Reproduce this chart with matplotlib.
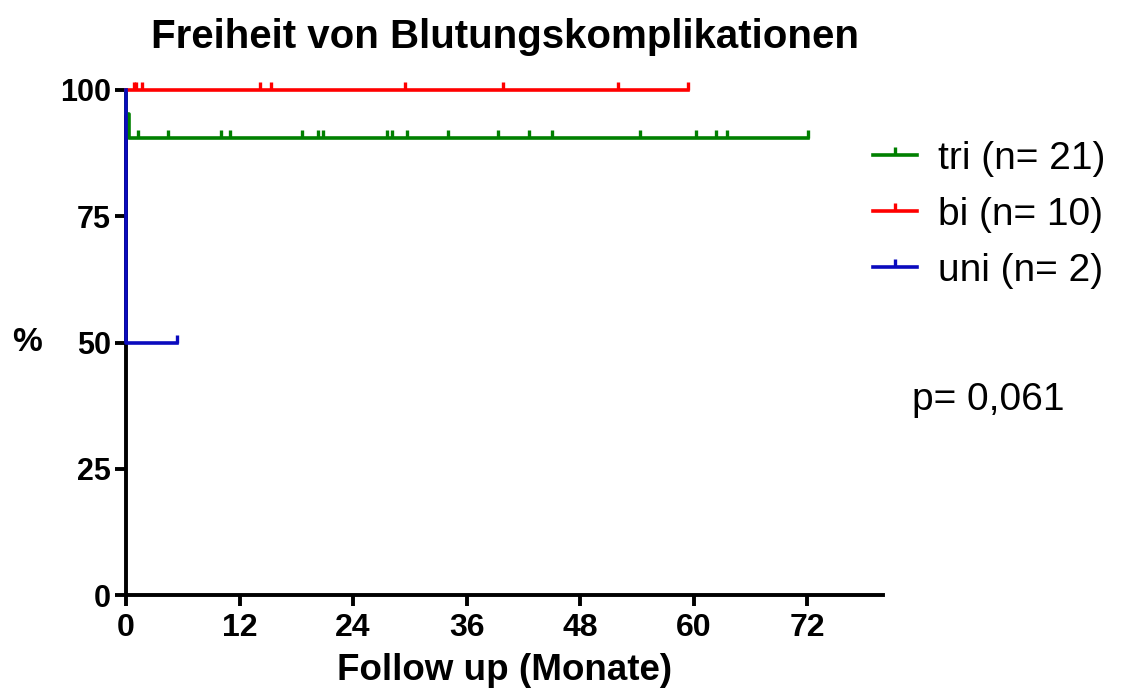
import matplotlib
matplotlib.use('Agg')
import matplotlib.pyplot as plt
from matplotlib.path import Path

plt.rcParams['font.family'] = ['Liberation Sans', 'DejaVu Sans']

# Daten (Monate)
tri_events = [0.05, 0.3]
tri_censored = [1.3, 4.4, 10.0, 11.0, 18.6, 20.3, 20.8, 27.6, 28.1, 29.7,
                34.0, 39.3, 42.6, 45.0, 54.3, 60.2, 62.4, 63.5, 72.1]
bi_events = []
bi_censored = [0.8, 1.1, 1.7, 14.2, 15.3, 29.5, 39.8, 52.0, 59.4]
uni_events = [0.05]
uni_censored = [5.4]

labels = ['tri (n= 21)', 'bi (n= 10)', 'uni (n= 2)']
colors = ['#008000', '#FF0000', '#0A0ABE']
xticks = [0, 12, 24, 36, 48, 60, 72]
yticks = [0, 25, 50, 75, 100]


def km(events, censored):
    """Kaplan-Meier Stufenkurve + Werte an den zensierten Zeitpunkten."""
    n = len(events) + len(censored)
    pts = sorted([(t, 1) for t in events] + [(t, 0) for t in censored])
    s = 100.0
    xs, ys = [0.0], [100.0]
    cx, cy = [], []
    at_risk = n
    for t, ev in pts:
        if ev:
            s = s * (at_risk - 1) / at_risk
            xs.append(t)
            ys.append(s)
        else:
            cx.append(t)
            cy.append(s)
        at_risk -= 1
    xs.append(pts[-1][0])
    ys.append(s)
    return xs, ys, cx, cy


tick_marker = Path([(0, 0), (0, 1)], [Path.MOVETO, Path.LINETO])

fig = plt.figure(figsize=(11.23, 6.96), dpi=100)
ax = fig.add_axes([0.1122, 0.1451, 0.6741, 0.7256])

groups = [(tri_events, tri_censored), (bi_events, bi_censored),
          (uni_events, uni_censored)]
for (ev, ce), col, lab in zip(groups, colors, labels):
    xs, ys, cx, cy = km(ev, ce)
    ax.step(xs, ys, where='post', color=col, lw=2.6, clip_on=False, zorder=3)
    ax.plot(cx, cy, ls='none', marker=tick_marker, ms=11, mew=2.4,
            color=col, clip_on=False, zorder=3)
    ax.plot([], [], color=col, lw=2.6, marker=tick_marker, ms=11, mew=2.4,
            label=lab)

ax.set_xlim(0, 80)
ax.set_ylim(0, 100)
ax.set_xticks(xticks)
ax.set_yticks(yticks)
for s in ['top', 'right']:
    ax.spines[s].set_visible(False)
for s in ['left', 'bottom']:
    ax.spines[s].set_linewidth(2.8)
ax.tick_params(length=8, width=2.8, pad=3)
ax.tick_params(axis='y', labelsize=22)
ax.tick_params(axis='x', labelsize=23, pad=5)
for t in ax.get_xticklabels() + ax.get_yticklabels():
    t.set_fontweight('bold')

ax.set_title('Freiheit von Blutungskomplikationen', fontsize=29,
             fontweight='bold', pad=30)
ax.set_xlabel('Follow up (Monate)', fontsize=26.5, fontweight='bold',
              labelpad=7)
fig.text(0.011, 0.508, '%', fontsize=24, fontweight='bold', va='center')

leg = fig.legend(loc='upper left', bbox_to_anchor=(0.777, 0.798),
                 frameon=False, fontsize=28, handlelength=1.13,
                 handletextpad=0.55, labelspacing=0.52, borderpad=0,
                 borderaxespad=0)

fig.text(0.812, 0.411, 'p= 0,061', fontsize=28, va='baseline')

fig.savefig('out.png', dpi=100)
